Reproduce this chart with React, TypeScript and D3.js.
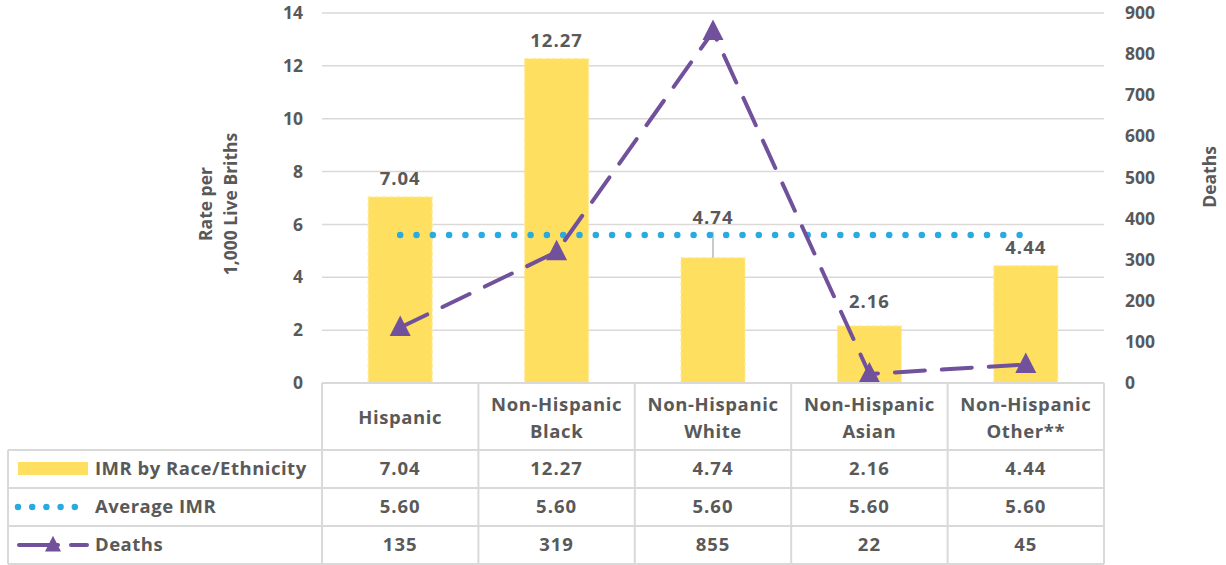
import React from "react";
import * as d3 from "d3";

const categories: string[][] = [["Hispanic"], ["Non-Hispanic", "Black"], ["Non-Hispanic", "White"], ["Non-Hispanic", "Asian"], ["Non-Hispanic", "Other**"]];
const imr: number[] = [7.04, 12.27, 4.74, 2.16, 4.44];
const avgImr: number[] = [5.6, 5.6, 5.6, 5.6, 5.6];
const deaths: number[] = [135, 319, 855, 22, 45];
const leftTicks: number[] = [0, 2, 4, 6, 8, 10, 12, 14];
const rightTicks: number[] = [0, 100, 200, 300, 400, 500, 600, 700, 800, 900];

const TXT = "#595959";
const GRID = "#d9d9d9";
const YELLOW = "#FFDF5F";
const BLUE = "#29ABE2";
const PURPLE = "#71519B";
const FONT = "'Open Sans', sans-serif";
const FS = 18.5;

export default function App() {
  const W = 1226, H = 565;
  const x0 = 322, x1 = 1104;
  const yTop = 13, yBot = 383;
  const x = d3.scaleBand<number>().domain(d3.range(categories.length)).range([x0, x1]);
  const bw = 64;
  const yL = d3.scaleLinear().domain([0, 14]).range([yBot, yTop]);
  const yR = d3.scaleLinear().domain([0, 900]).range([yBot, yTop]);
  const cx = (i: number) => (x(i) as number) + x.bandwidth() / 2;

  const deathLine = d3.line<number>().x((_, i) => cx(i)).y((d) => yR(d));
  const avgLine = d3.line<number>().x((_, i) => cx(i)).y((d) => yL(d));

  const rows = [450, 488, 526, 564];
  const tri = (px: number, py: number, s = 10) => `M${px},${py - s * 1.15} L${px + s},${py + s * 0.8} L${px - s},${py + s * 0.8} Z`;

  const labelY = (i: number) => {
    if (i === 2) return yL(imr[i]) - 34;
    if (i === 3) return yL(imr[i]) - 18;
    return yL(imr[i]) - 12;
  };

  return (
    <svg width={W} height={H} style={{ position: "absolute", left: 0, top: 0 }} fontFamily={FONT}>
      <rect width={W} height={H} fill="#fff" />
      {/* gridlines */}
      {leftTicks.filter((t) => t > 0).map((t) => (
        <line key={t} x1={x0} x2={x1} y1={yL(t)} y2={yL(t)} stroke={GRID} strokeWidth={1.5} />
      ))}
      {/* left ticks */}
      {leftTicks.map((t) => (
        <text key={t} x={303} y={yL(t)} dy="0.35em" textAnchor="end" fontSize={17.5} fontWeight="bold" fill={TXT}>{t}</text>
      ))}
      {/* right ticks */}
      {rightTicks.map((t) => (
        <text key={t} x={1125} y={yR(t)} dy="0.35em" textAnchor="start" fontSize={17.5} fontWeight="bold" fill={TXT}>{t}</text>
      ))}
      {/* axis titles */}
      <g transform={`translate(212,204) rotate(-90)`}>
        <text textAnchor="middle" fontSize={17.5} fontWeight="bold" fill={TXT} y={0}>Rate per</text>
        <text textAnchor="middle" fontSize={17.5} fontWeight="bold" fill={TXT} y={25}>1,000 Live Briths</text>
      </g>
      <text transform={`translate(1216,177) rotate(-90)`} textAnchor="middle" fontSize={17.5} fontWeight="bold" fill={TXT}>Deaths</text>
      {/* bars */}
      {imr.map((v, i) => (
        <rect key={i} x={cx(i) - bw / 2} y={yL(v)} width={bw} height={yBot - yL(v)} fill={YELLOW} stroke="#FFEB9A" strokeWidth={1.2} strokeDasharray="4,3" />
      ))}
      {/* leader line for White */}
      <line x1={cx(2)} x2={cx(2)} y1={labelY(2) + 8} y2={yL(imr[2])} stroke="#a6a6a6" strokeWidth={1.2} />
      {/* bar labels */}
      {imr.map((v, i) => (
        <text key={i} x={cx(i)} y={labelY(i)} textAnchor="middle" fontSize={FS} letterSpacing={1} fontWeight="bold" fill={TXT}>{v.toFixed(2)}</text>
      ))}
      {/* average line */}
      <path d={avgLine(avgImr) as string} fill="none" stroke={BLUE} strokeWidth={6.5} strokeLinecap="round" strokeDasharray="0,16.3" />
      {/* deaths line */}
      <path d={deathLine(deaths) as string} fill="none" stroke={PURPLE} strokeWidth={4} strokeLinecap="round" strokeDasharray="30,17" />
      {deaths.map((d, i) => (
        <path key={i} d={tri(cx(i), yR(d), 10.5)} fill={PURPLE} />
      ))}
      {/* table */}
      <g stroke={GRID} strokeWidth={2} fill="none">
        <line x1={x0} x2={x1} y1={yBot} y2={yBot} />
        {rows.map((r) => (
          <line key={r} x1={8} x2={x1} y1={r} y2={r} />
        ))}
        {d3.range(categories.length + 1).map((i) => (
          <line key={i} x1={x0 + i * x.bandwidth()} x2={x0 + i * x.bandwidth()} y1={yBot} y2={rows[3]} />
        ))}
        <line x1={8} x2={8} y1={rows[0]} y2={rows[3]} />
      </g>
      {categories.map((c, i) => (
        <text key={i} x={cx(i)} textAnchor="middle" fontSize={FS} letterSpacing={0.6} fontWeight="bold" fill={TXT}>
          {c.length === 1 ? (
            <tspan x={cx(i)} y={424}>{c[0]}</tspan>
          ) : (
            c.map((s, j) => <tspan key={j} x={cx(i)} y={411 + j * 27}>{s}</tspan>)
          )}
        </text>
      ))}
      {[imr.map((v) => v.toFixed(2)), avgImr.map((v) => v.toFixed(2)), deaths.map((v) => String(v))].map((row, r) =>
        row.map((s, i) => (
          <text key={r + "-" + i} x={cx(i)} y={(rows[r] + rows[r + 1]) / 2} dy="0.35em" textAnchor="middle" fontSize={FS} letterSpacing={1} fontWeight="bold" fill={TXT}>{s}</text>
        ))
      )}
      {/* legend keys */}
      <rect x={18} y={462} width={70} height={13} fill={YELLOW} />
      <line x1={18} x2={88} y1={507} y2={507} stroke={BLUE} strokeWidth={6.5} strokeLinecap="round" strokeDasharray="0,14.2" />
      <line x1={19} x2={58} y1={545} y2={545} stroke={PURPLE} strokeWidth={4} strokeLinecap="round" />
      <line x1={71} x2={87} y1={545} y2={545} stroke={PURPLE} strokeWidth={4} strokeLinecap="round" />
      <path d={tri(53, 545, 8)} fill={PURPLE} />
      {[["IMR by Race/Ethnicity", 469], ["Average IMR", 507], ["Deaths", 545]].map(([s, y]) => (
        <text key={s as string} x={95} y={y as number} dy="0.35em" fontSize={FS} letterSpacing={0.5} fontWeight="bold" fill={TXT}>{s}</text>
      ))}
    </svg>
  );
}
